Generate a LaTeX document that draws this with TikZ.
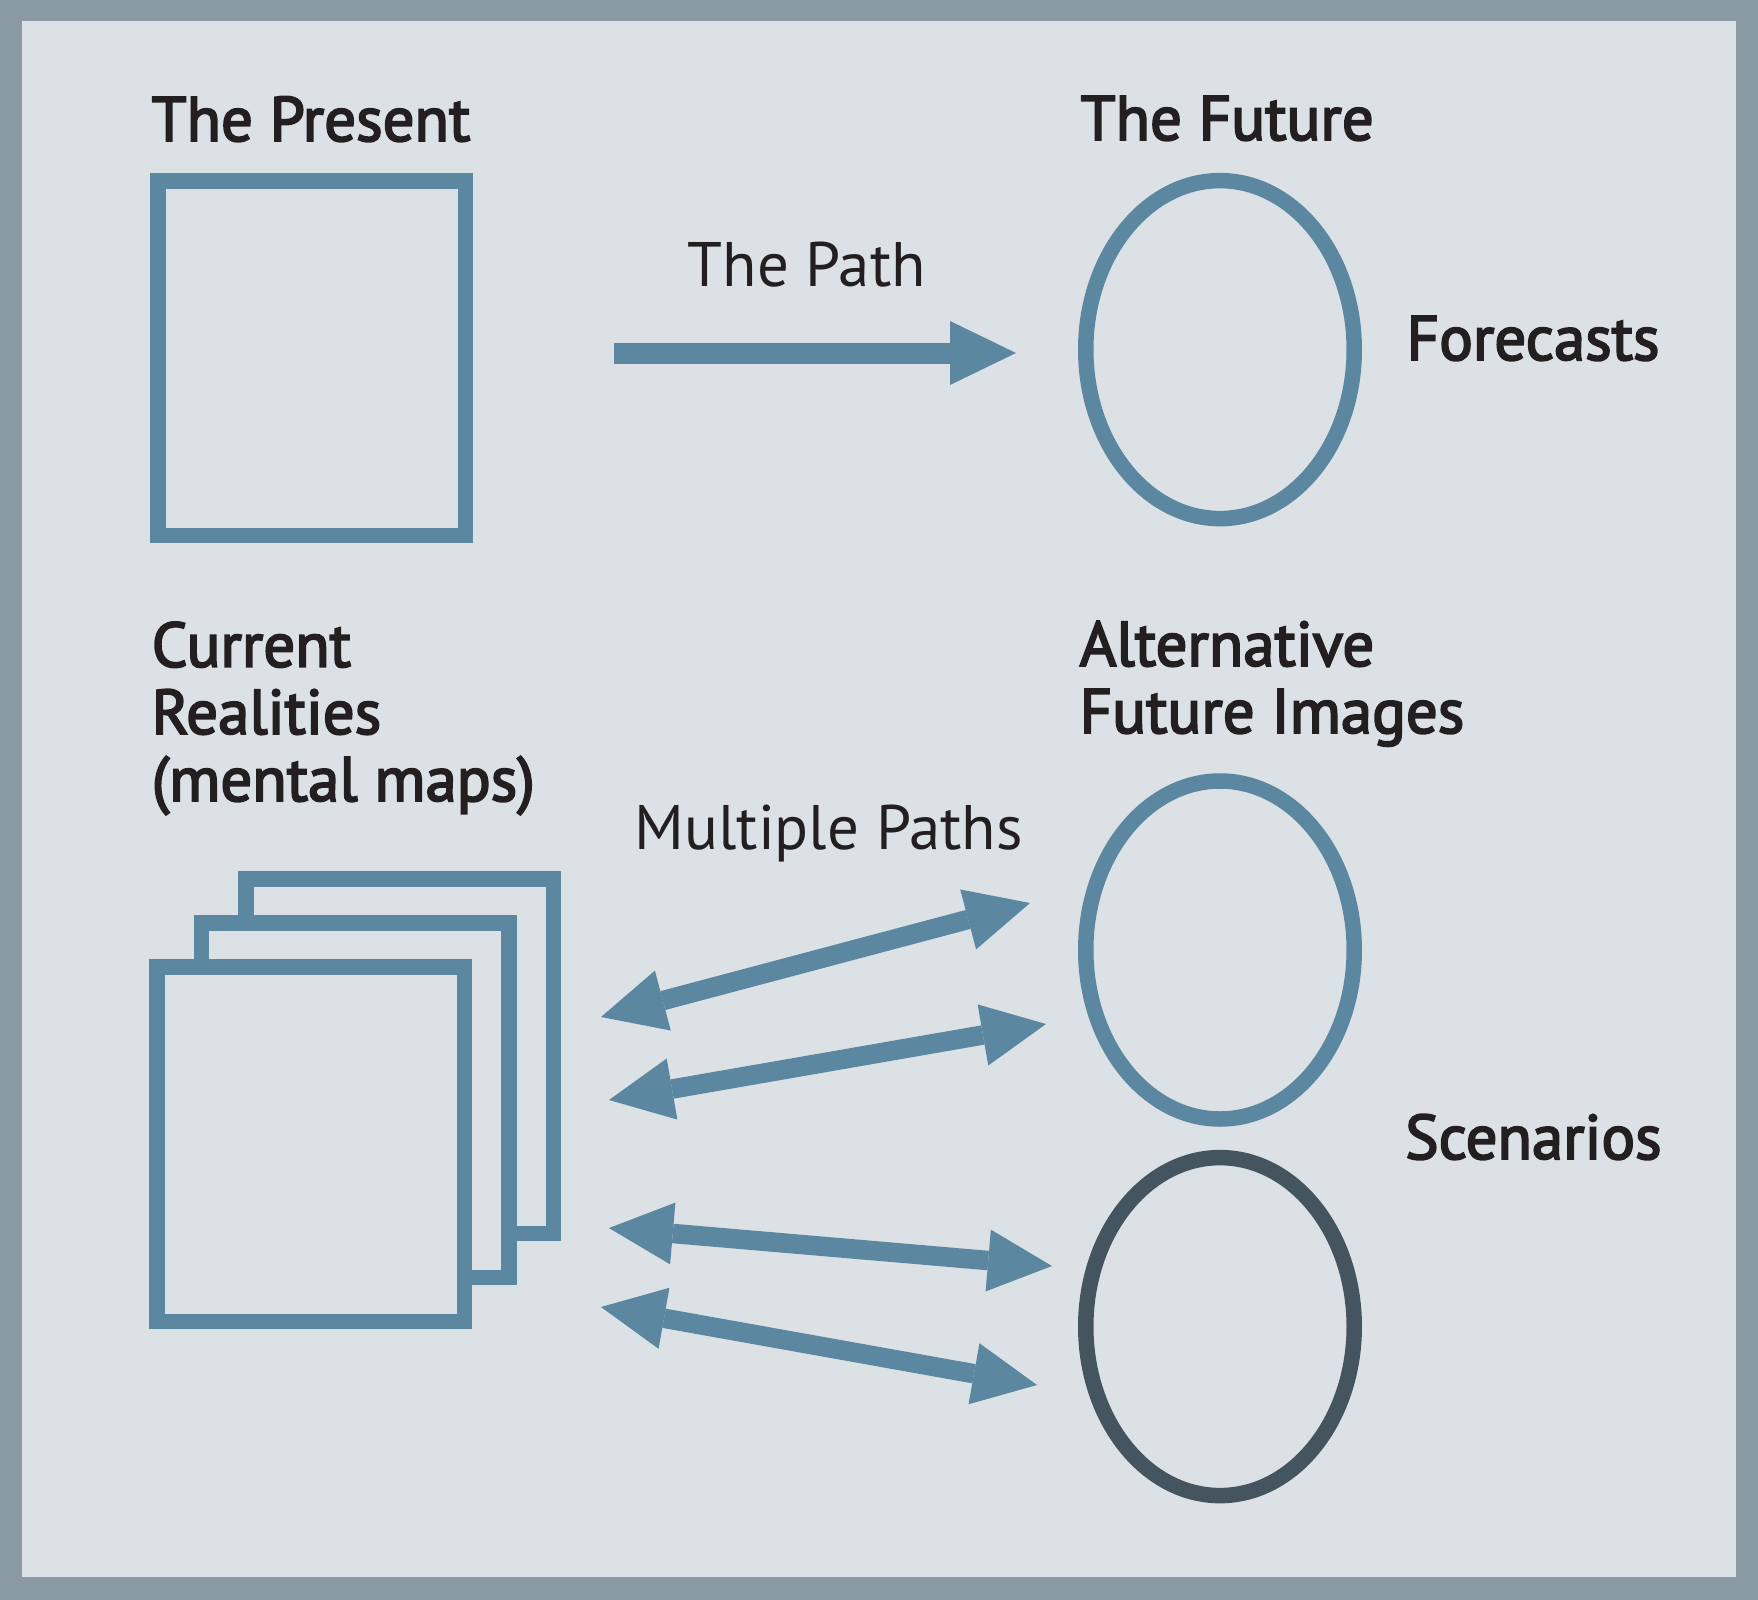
\documentclass[tikz,border=0pt]{standalone}
\usepackage{fontspec}
\setmainfont{PT Sans}
\newfontfamily\heavyfont{PT Sans}[FakeBold=3]
\usepackage{tikz}
\usetikzlibrary{arrows.meta}
\usetikzlibrary{positioning}
\usetikzlibrary{shapes.geometric}
\definecolor{framegray}{HTML}{8A9AA4}
\definecolor{panelbg}{HTML}{DCE1E5}
\definecolor{pathblue}{HTML}{5B87A1}
\definecolor{darkslate}{HTML}{44555F}
\definecolor{inkblack}{HTML}{231F20}

\begin{document}
\begin{tikzpicture}[x=0.1mm,y=-0.1mm,
    page/.style={draw=pathblue, line width=1.55mm, fill=panelbg, inner sep=0pt,
        minimum width=30.75mm, minimum height=35.45mm},
    oval/.style={ellipse, draw=pathblue, line width=1.55mm, inner sep=0pt,
        minimum width=26.85mm, minimum height=33.8mm},
    heavy/.style={anchor=base west, inner sep=0pt, align=left, text=inkblack,
        font=\heavyfont\fontsize{17.9}{19.1}\selectfont},
    light/.style={anchor=base west, inner sep=0pt, text=inkblack,
        font=\fontsize{17.9}{19.1}\selectfont},
    fatarrow/.style={pathblue, line width=2.1mm,
        -{Triangle[length=6.6mm, width=6.4mm, line width=0pt]}},
    twoway/.style={pathblue, line width=1.95mm,
        {Triangle[length=6.4mm, width=6.2mm, line width=0pt]}-{Triangle[length=6.4mm, width=6.2mm, line width=0pt]}}]

        % Marco
        \useasboundingbox (0,0) rectangle (1758,1600);
        \fill[framegray] (0,0) rectangle (1758,1600);
        \fill[panelbg] (22,21) rectangle (1736,1577);

        % Presente y futuro
        \node[heavy] (present) at (151,141) {The Present};
        \node[heavy] (future) at (1080,140) {The Future};
        \node[page] (presentbox) at (311.5,358) {};
        \node[oval] (futureoval) at (1220,349.6) {};
        \node[light] (thepath) at (687,286) {The Path};
        \node[heavy] (forecasts) at (1406,360) {Forecasts};

        % Camino
        \coordinate (pathstart) at (614,353);
        \coordinate (pathend) at (1016,353);
        \draw[fatarrow] (pathstart) -- (pathend);

        % Realidades actuales
        \node[heavy] (realities) at (151,801) {Current\\Realities\\(mental maps)};
        \node[page] (stackback) at (399.5,1056.2) {};
        \node[page] (stackmid) at (355,1100.4) {};
        \node[page] (stackfront) at (310.7,1144.4) {};

        % Futuros alternativos
        \node[heavy] (alternative) at (1079,733) {Alternative\\Future Images};
        \node[oval] (altoval) at (1220,950) {};
        \node[oval, draw=darkslate] (scenoval) at (1220,1326.6) {};
        \node[heavy] (scenarios) at (1404.5,1159) {Scenarios};
        \node[light] (multiple) at (634,849) {Multiple Paths};

        % Caminos multiples
        \coordinate (left1) at (601,1017);
        \coordinate (right1) at (1030,903);
        \coordinate (left2) at (609,1100);
        \coordinate (right2) at (1046,1024);
        \coordinate (left3) at (609,1228);
        \coordinate (right3) at (1052,1266);
        \coordinate (left4) at (601,1307);
        \coordinate (right4) at (1037,1385);
        \draw[twoway] (left1) -- (right1);
        \draw[twoway] (left2) -- (right2);
        \draw[twoway] (left3) -- (right3);
        \draw[twoway] (left4) -- (right4);
    \end{tikzpicture}
\end{document}
